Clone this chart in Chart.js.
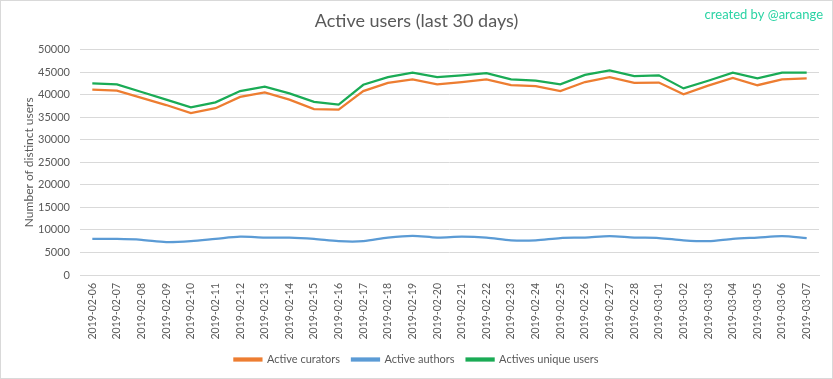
<!DOCTYPE html>
<html>
<head>
<meta charset="utf-8">
<script src="https://cdn.jsdelivr.net/npm/chart.js@4"></script>
<style>
html,body{margin:0;padding:0;background:#fff;}
#wrap{width:833px;height:379px;position:relative;}
canvas{display:block;}
</style>
</head>
<body>
<div id="wrap"><canvas id="c" width="833" height="379"></canvas></div>
<script>
const dates = ["2019-02-06","2019-02-07","2019-02-08","2019-02-09","2019-02-10","2019-02-11","2019-02-12","2019-02-13","2019-02-14","2019-02-15","2019-02-16","2019-02-17","2019-02-18","2019-02-19","2019-02-20","2019-02-21","2019-02-22","2019-02-23","2019-02-24","2019-02-25","2019-02-26","2019-02-27","2019-02-28","2019-03-01","2019-03-02","2019-03-03","2019-03-04","2019-03-05","2019-03-06","2019-03-07"];
const curators = [41100,40900,39300,37700,35900,37000,39500,40500,38900,36800,36700,40800,42600,43400,42300,42800,43400,42100,41900,40800,42800,43900,42600,42700,40100,42000,43700,42100,43400,43600];
const authors = [8000,8000,7800,7300,7500,8000,8500,8300,8300,8000,7500,7500,8300,8700,8300,8500,8300,7700,7700,8200,8300,8600,8300,8200,7700,7500,8000,8300,8600,8200];
const uniqueUsers = [42500,42300,40600,38900,37200,38300,40800,41800,40300,38400,37800,42200,43900,44900,43900,44300,44800,43400,43100,42300,44400,45400,44100,44300,41400,43100,44900,43600,44900,44900];
const yTicks = {min:0, max:50000, step:5000};
const titleText = "Active users (last 30 days)";
const creditText = "created by @arcange";
const yAxisTitle = "Number of distinct users";
const seriesNames = ["Active curators","Active authors","Actives unique users"];

const FONT = "Lato, 'Open Sans', sans-serif";
const grey = "#595959";

const extras = {
  id:'extras',
  afterDraw(chart){
    const ctx = chart.ctx;
    ctx.save();
    ctx.strokeStyle = "#d9d9d9";
    ctx.lineWidth = 1;
    ctx.strokeRect(0.5,0.5,chart.width-1,chart.height-1);
    ctx.fillStyle = "#2ad3a4";
    ctx.font = "13px " + FONT;
    ctx.textAlign = "right";
    ctx.textBaseline = "middle";
    ctx.fillText(creditText, 823, 15);
    ctx.restore();
  }
};

new Chart(document.getElementById('c'), {
  type:'line',
  data:{
    labels: dates,
    datasets:[
      {label:seriesNames[0], data:curators, borderColor:"#ED7D31", backgroundColor:"#ED7D31", borderWidth:2.25, pointRadius:0, tension:0},
      {label:seriesNames[1], data:authors, borderColor:"#5B9BD5", backgroundColor:"#5B9BD5", borderWidth:2.25, pointRadius:0, tension:0.3},
      {label:seriesNames[2], data:uniqueUsers, borderColor:"#1AAB55", backgroundColor:"#1AAB55", borderWidth:2.25, pointRadius:0, tension:0}
    ]
  },
  plugins:[extras],
  options:{
    responsive:false,
    animation:false,
    devicePixelRatio:1,
    layout:{padding:{left:14,right:14,top:0,bottom:4}},
    plugins:{
      title:{display:true, text:titleText, color:grey, font:{family:FONT, size:18, weight:'normal'}, padding:{top:10,bottom:18}},
      legend:{position:'bottom', labels:{boxWidth:27, boxHeight:2, color:grey, font:{family:FONT,size:11}, padding:12}},
      tooltip:{enabled:false}
    },
    scales:{
      x:{
        offset:true,
        grid:{display:false, drawTicks:false},
        border:{display:true, color:"#d9d9d9"},
        ticks:{color:grey, font:{family:FONT,size:10.5}, minRotation:90, maxRotation:90, autoSkip:false, padding:8},
        afterFit(scale){ scale.height = 67; }
      },
      y:{
        min:yTicks.min, max:yTicks.max,
        grid:{color:"#d9d9d9", drawTicks:false},
        border:{display:false},
        ticks:{stepSize:yTicks.step, color:grey, font:{family:FONT,size:11}, padding:10, callback:(v)=>String(v)},
        title:{display:true, text:yAxisTitle, color:grey, font:{family:FONT,size:12}, padding:{top:8,bottom:2}},
        afterFit(scale){ scale.width = 66; }
      }
    }
  }
});
</script>
</body>
</html>
